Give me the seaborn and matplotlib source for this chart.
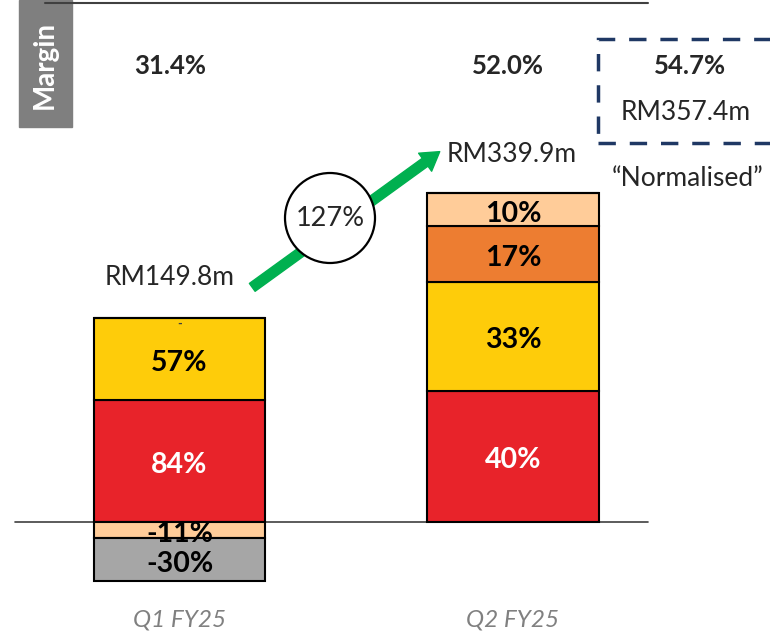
import numpy as np
import pandas as pd
import matplotlib
matplotlib.use("Agg")
import matplotlib.pyplot as plt
import matplotlib.patches as mpatches
import seaborn as sns

# ---------------------------
# Data
# ---------------------------
quarters = ["Q1 FY25", "Q2 FY25"]
revenue = [149.8, 339.9]              # RM m
revenue_labels = ["RM149.8m", "RM339.9m"]
margin_labels = ["31.4%", "52.0%"]
growth_label = "127%"
norm_margin = "54.7%"
norm_revenue = "RM357.4m"

# share of revenue (%) per segment, stacked in this order
seg_names = ["red", "yellow", "orange", "peach", "grey"]
share_red = [84, 40]
share_yellow = [57, 33]
share_orange = [0, 17]
share_peach = [-11, 10]
share_grey = [-30, 0]
shares = [share_red, share_yellow, share_orange, share_peach, share_grey]
seg_colors = ["#E8232A", "#FECC0A", "#ED7D31", "#FFCC99", "#A6A6A6"]
label_colors = ["white", "black", "black", "black", "black"]

# ---------------------------
# Figure
# ---------------------------
sns.set_style("white")
plt.rcParams["font.family"] = ["Lato", "DejaVu Sans"]

W, H = 770, 634
fig = plt.figure(figsize=(W / 100, H / 100), dpi=100)
ax = fig.add_axes([0, 0, 1, 1])


def fx(px):
    return px / W


def fy(py):
    return 1 - py / H


pos_base = np.zeros(2)
neg_base = np.zeros(2)
for name, sh, col, lc in zip(seg_names, shares, seg_colors, label_colors):
    vals = np.array(sh) / 100 * np.array(revenue)
    bottoms = np.where(vals >= 0, pos_base, neg_base)
    sns.barplot(x=quarters, y=vals, bottom=bottoms, color=col, saturation=1,
                width=0.513, edgecolor="black", linewidth=1.5, errorbar=None, ax=ax)
    for i, (v, s) in enumerate(zip(vals, sh)):
        if s != 0:
            ax.annotate(f"{s}%", (i, bottoms[i] + v / 2), xytext=(0, -3),
                        textcoords="offset points", ha="center", va="center",
                        fontsize=20.5, fontweight="bold", color=lc)
        elif name == "orange" and i == 0:
            ax.text(i, bottoms[i], "-", ha="center", va="top",
                    fontsize=9, fontweight="bold", color="#404040")
    pos_base = np.where(vals >= 0, pos_base + vals, pos_base)
    neg_base = np.where(vals < 0, neg_base + vals, neg_base)

# map data to the reference pixel grid: bar centres at 179.5 / 513 px, zero at 522 px
px_per_cat = 333.5
px_per_m = 0.967
ax.set_xlim(-179.5 / px_per_cat, (W - 179.5) / px_per_cat)
ax.set_ylim(-(H - 522) / px_per_m, 522 / px_per_m)
ax.axis("off")

# zero line and top rule
fig.add_artist(plt.Line2D([fx(15), fx(648)], [fy(522), fy(522)], color="#404040", lw=1.2, zorder=0))
fig.add_artist(plt.Line2D([fx(45), fx(648)], [fy(3), fy(3)], color="#404040", lw=1.5))

# category labels
for x_px, q in zip([180, 513], quarters):
    fig.text(fx(x_px), fy(620), q, ha="center", va="center", fontsize=17.5,
             style="italic", color="#808080")

# margin row
fig.add_artist(mpatches.Rectangle((fx(19), fy(127)), fx(53), 127 / H,
                                  transform=fig.transFigure, color="#7F7F7F"))
fig.text(fx(45), fy(65), "Margin", rotation=90, ha="center", va="center",
         fontsize=20, fontweight="bold", color="white")
for x_px, m in zip([170, 508], margin_labels):
    fig.text(fx(x_px), fy(66), m, ha="center", va="center", fontsize=18.5, fontweight="bold")

# revenue labels
fig.text(fx(170), fy(278), revenue_labels[0], ha="center", va="center", fontsize=19)
fig.text(fx(512), fy(155), revenue_labels[1], ha="center", va="center", fontsize=19)

# growth arrow and circle
arrow = mpatches.FancyArrowPatch((fx(250), fy(289)), (fx(442), fy(150)),
                                 transform=fig.transFigure,
                                 arrowstyle="simple,head_width=16,head_length=13,tail_width=7",
                                 color="#00B050", mutation_scale=1)
fig.add_artist(arrow)
circ = mpatches.Ellipse((fx(330), fy(218)), 2 * 45 / W, 2 * 45 / H, transform=fig.transFigure,
                        facecolor="white", edgecolor="black", lw=1.6)
fig.add_artist(circ)
fig.text(fx(330), fy(218), growth_label, ha="center", va="center", fontsize=19.5)

# normalised box
box = mpatches.Rectangle((fx(598), fy(143)), fx(190), 104 / H, transform=fig.transFigure,
                         fill=False, edgecolor="#1F3864", lw=2.5, linestyle=(0, (5, 4)))
fig.add_artist(box)
fig.text(fx(690), fy(66), norm_margin, ha="center", va="center", fontsize=18.5, fontweight="bold")
fig.text(fx(686), fy(112), norm_revenue, ha="center", va="center", fontsize=19)
fig.text(fx(688), fy(178), "\u201cNormalised\u201d", ha="center", va="center", fontsize=19)

fig.savefig("out.png", dpi=100)
